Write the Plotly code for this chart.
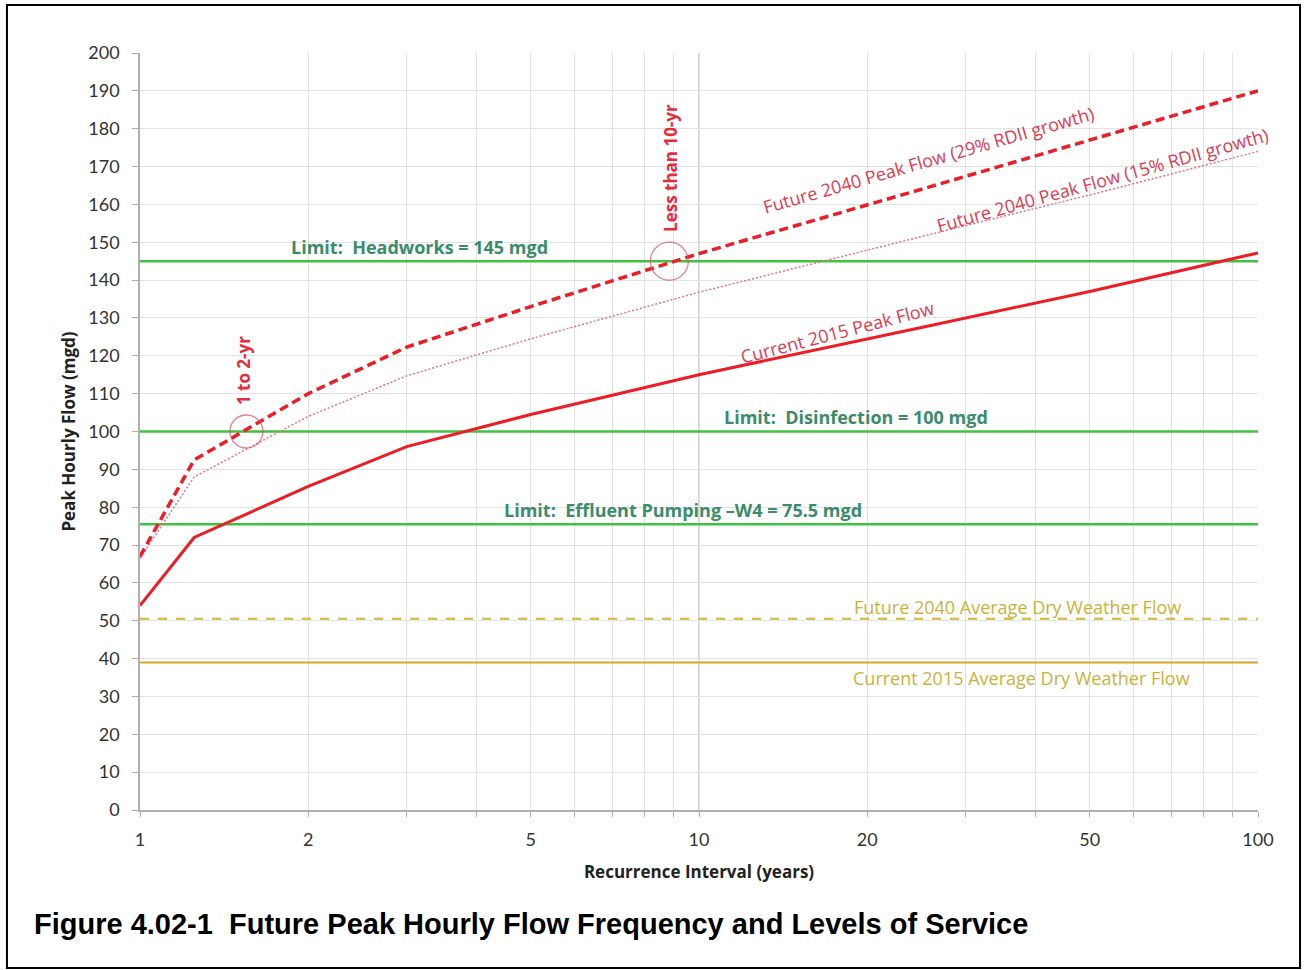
import math
import plotly.graph_objects as go

# Recurrence interval (years)
recurrence = [1, 1.25, 2, 3, 5, 10, 25, 50, 100]

# Peak hourly flow (mgd)
current_2015_peak = [54, 72, 85.5, 96, 104.5, 115, 127.5, 137, 147.2]
future_2040_peak_29 = [67, 92.5, 110, 122.3, 133, 147, 164, 177, 190]
future_2040_peak_15 = [66.5, 88, 104, 114.7, 124.5, 136.8, 151.5, 162.5, 174]

# Capacity limits and average dry weather flows (mgd)
x_span = [1, 100]
limit_headworks = 145
limit_disinfection = 100
limit_effluent_pumping = 75.5
future_2040_adwf = 50.5
current_2015_adwf = 39

# Points where the peak curves cross a capacity limit
crossings_x = [1.55, 8.85]
crossings_y = [100, 145]

y_ticks = list(range(0, 201, 10))
x_grid = [1, 2, 3, 4, 5, 6, 7, 8, 9, 10, 20, 30, 40, 50, 60, 70, 80, 90, 100]
x_labels = {1: "1", 2: "2", 5: "5", 10: "10", 20: "20", 50: "50", 100: "100"}

RED = "#ee1c25"
PINK = "#f2707e"
GREEN = "#3fc23f"
GREEN_TEXT = "#3a8c6b"
GOLD = "#d8b436"
GOLD_SOLID = "#d9a62a"
GOLD_TEXT = "#cbb23a"
FONT = "Lato, 'Open Sans', sans-serif"
LABEL_FONT = "'Open Sans', Lato, sans-serif"

fig = go.Figure()

# Horizontal reference levels
for y, color, dash, width in [
    (limit_headworks, GREEN, "solid", 2.5),
    (limit_disinfection, GREEN, "solid", 2.5),
    (limit_effluent_pumping, GREEN, "solid", 2.5),
    (future_2040_adwf, GOLD, "dash", 2),
    (current_2015_adwf, GOLD_SOLID, "solid", 2),
]:
    fig.add_trace(go.Scatter(
        x=x_span, y=[y, y], mode="lines",
        line=dict(color=color, width=width, dash=dash),
        hoverinfo="skip", showlegend=False,
    ))

# Peak flow frequency curves
fig.add_trace(go.Scatter(
    x=recurrence, y=future_2040_peak_15, mode="lines",
    line=dict(color=PINK, width=1.5, dash="2px,2px"), showlegend=False,
))
fig.add_trace(go.Scatter(
    x=recurrence, y=future_2040_peak_29, mode="lines",
    line=dict(color=RED, width=3.5, dash="9px,5px"), showlegend=False,
))
fig.add_trace(go.Scatter(
    x=recurrence, y=current_2015_peak, mode="lines",
    line=dict(color=RED, width=3), showlegend=False,
))

# Circles around the crossing points
fig.add_trace(go.Scatter(
    x=crossings_x, y=crossings_y, mode="markers",
    marker=dict(symbol="circle-open", size=[33, 38],
                line=dict(color="#e04a5a", width=1.3), color="#e04a5a"),
    hoverinfo="skip", showlegend=False,
))

# Emphasised decade gridline
fig.add_shape(type="line", xref="x", yref="paper", x0=10, x1=10, y0=0, y1=1,
              line=dict(color="#c4c4c4", width=1.5), layer="below")


def lx(v):
    return math.log10(v)


def label(text, x, y, color, size=18, bold=False, angle=0):
    fig.add_annotation(
        x=lx(x), y=y, xref="x", yref="y", text=f"<b>{text}</b>" if bold else text,
        showarrow=False, textangle=angle,
        font=dict(family=LABEL_FONT, size=size, color=color),
    )


label("Limit:  Headworks = 145 mgd", 3.16, 148.7, GREEN_TEXT, 18, True)
label("Limit:  Disinfection = 100 mgd", 19.1, 103.8, GREEN_TEXT, 18, True)
label("Limit:  Effluent Pumping \u2013W4 = 75.5 mgd", 9.36, 79.3, GREEN_TEXT, 18, True)
label("Future 2040 Average Dry Weather Flow", 37.2, 53.6, GOLD_TEXT, 18)
label("Current 2015 Average Dry Weather Flow", 37.8, 34.9, GOLD_TEXT, 18)
label("Future 2040 Peak Flow (29% RDII growth)", 25.7, 171.7, "#e23a52", 18, angle=-16)
label("Future 2040 Peak Flow (15% RDII growth)", 52.6, 166.4, "#e23a52", 18, angle=-15.5)
label("Current 2015 Peak Flow", 17.7, 126.2, "#e23a52", 18, angle=-14.5)
label("1 to 2-yr", 1.528, 116.2, "#e82a3c", 17, True, -90)
label("Less than 10-yr", 8.87, 169.6, "#e82a3c", 17, True, -90)

# Figure caption
fig.add_annotation(
    xref="paper", yref="paper", x=-0.0966, y=-0.1512, xanchor="left", yanchor="middle",
    text="<b>Figure 4.02-1  Future Peak Hourly Flow Frequency and Levels of Service</b>",
    showarrow=False, font=dict(family="'Liberation Sans', Arial, sans-serif", size=29, color="#000000"),
)

# Page frame
fig.add_shape(type="rect", xref="paper", yref="paper",
              x0=-0.1190, x1=1.0376, y0=-0.2087, y1=1.0634,
              line=dict(color="#000000", width=2), layer="above")

fig.update_layout(
    width=1307, height=970,
    margin=dict(l=140, r=49, t=53, b=160),
    paper_bgcolor="#ffffff", plot_bgcolor="#ffffff",
    font=dict(family=FONT, color="#333333"),
    xaxis=dict(
        type="log", range=[0, 2],
        tickvals=x_grid, ticktext=[x_labels.get(v, "") for v in x_grid],
        showgrid=True, gridcolor="#e3e3e3", gridwidth=1,
        showline=True, linecolor="#b0b0b0", linewidth=1.5,
        ticks="outside", ticklen=5, tickcolor="#b0b0b0",
        ticklabelstandoff=8,
        tickfont=dict(family=FONT, size=18, color="#333333"),
        zeroline=False,
        title=dict(text="<b>Recurrence Interval (years)</b>", standoff=17,
                   font=dict(family=LABEL_FONT, size=17, color="#222222")),
    ),
    yaxis=dict(
        range=[0, 200], tickvals=y_ticks,
        showgrid=True, gridcolor="#e3e3e3", gridwidth=1,
        showline=True, linecolor="#b0b0b0", linewidth=1.5,
        ticks="outside", ticklen=6, tickcolor="#b0b0b0",
        ticklabelstandoff=9,
        tickfont=dict(family=FONT, size=18, color="#333333"),
        zeroline=False,
        title=dict(text="<b>Peak Hourly Flow (mgd)</b>", standoff=8,
                   font=dict(family=LABEL_FONT, size=17, color="#222222")),
    ),
)

fig.write_html("out.html")
